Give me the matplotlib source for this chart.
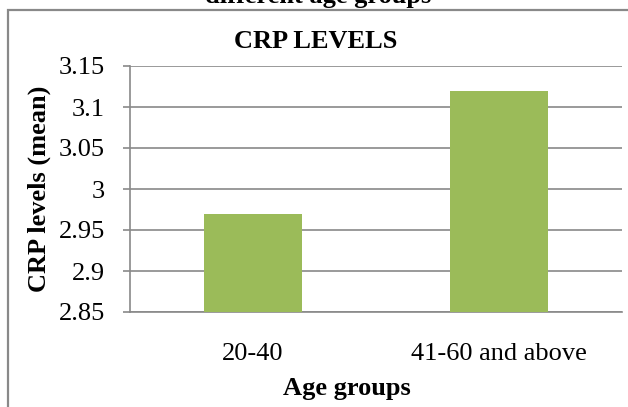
import matplotlib
matplotlib.use("Agg")
import matplotlib.pyplot as plt
from matplotlib.patches import Rectangle

categories = ["20-40", "41-60 and above"]
values = [2.97, 3.12]
yticks = [2.85, 2.9, 2.95, 3.0, 3.05, 3.1, 3.15]
ytick_labels = ["2.85", "2.9", "2.95", "3", "3.05", "3.1", "3.15"]

W, H = 628, 407
plt.rcParams['font.family'] = ['Liberation Serif', 'DejaVu Serif']
fig = plt.figure(figsize=(W / 100, H / 100), dpi=100)
fig.patch.set_facecolor('white')

grid_col = '#898989'
ax = fig.add_axes([130 / W, 1 - 312 / H, 492 / W, (312 - 66) / H])
ax.bar(range(len(categories)), values, width=0.4, color='#9BBB59', zorder=3)
ax.set_xlim(-0.5, 1.5)
ax.set_ylim(2.85, 3.15)
ax.set_yticks(yticks)
ax.set_yticklabels(ytick_labels)
ax.set_xticks(range(len(categories)))
ax.set_xticklabels(categories)
ax.yaxis.grid(True, color=grid_col, linewidth=1.2, zorder=0)
for s in ['top', 'right']:
    ax.spines[s].set_visible(False)
for s in ['left', 'bottom']:
    ax.spines[s].set_color(grid_col)
    ax.spines[s].set_linewidth(1.2)
ax.tick_params(axis='y', direction='out', length=5, width=1.2, color=grid_col,
               labelsize=19, pad=13)
ax.tick_params(axis='x', length=0, labelsize=19, pad=22)

fig.text(39 / W, 1 - 189 / H, "CRP levels (mean)", rotation=90, ha='center',
         va='center', fontsize=19, fontweight='bold')
fig.text(347 / W, 12 / H, "Age groups", ha='center', va='baseline',
         fontsize=19, fontweight='bold')
fig.text(316 / W, 1 - 48 / H, "CRP LEVELS", ha='center', va='baseline',
         fontsize=19, fontweight='bold')
fig.text(318 / W, 1 - 3 / H, "different age groups", ha='center', va='baseline',
         fontsize=19, fontweight='bold')

border = Rectangle((8 / W, -0.1), 1.2, 1 - 10 / H + 0.1, transform=fig.transFigure,
                   fill=False, edgecolor=grid_col, linewidth=1.6, clip_on=False)
fig.patches.append(border)

fig.savefig("out.png", dpi=100)
